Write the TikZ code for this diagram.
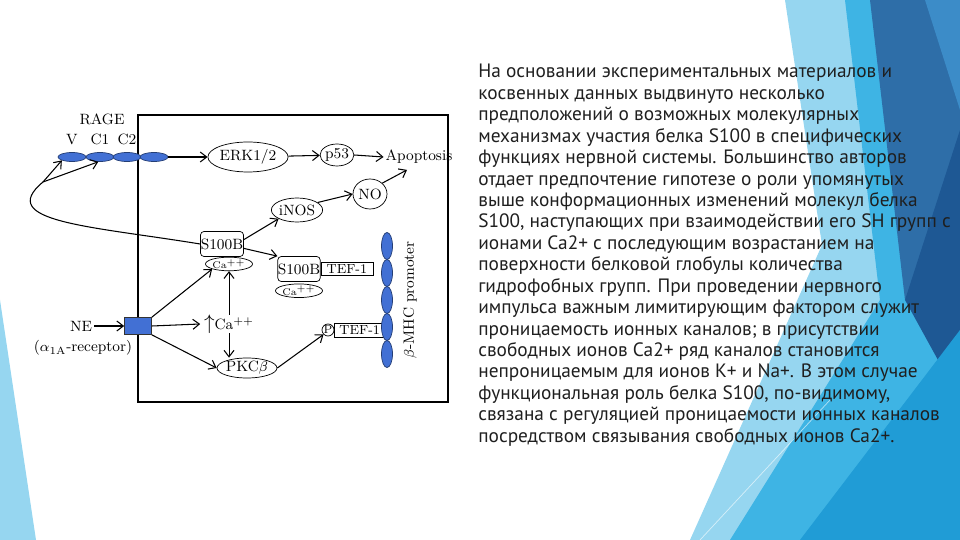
\documentclass[tikz,border=0pt]{standalone}
\usepackage{fontspec}
\usepackage{amsmath}
\newfontfamily\ptsans{PT Sans}
\usetikzlibrary{
    shapes.geometric,
    arrows.meta,
    positioning,
    calc
}
\definecolor{domblue}{RGB}{66, 112, 212}
\definecolor{slidelight}{RGB}{150, 214, 240}
\definecolor{slidecyan}{RGB}{62, 180, 228}
\definecolor{slidesteel}{RGB}{46, 110, 168}
\definecolor{slidemid}{RGB}{60, 140, 200}
\definecolor{slidenavy}{RGB}{30, 88, 148}
\definecolor{slidedeep}{RGB}{32, 156, 214}

\begin{document}
\begin{tikzpicture}[
        x=0.02cm, y=-0.02cm,
        lbl/.style={font=\fontsize{8.5}{9}\selectfont, inner sep=1pt},
        oval/.style={ellipse, draw, fill=white, inner sep=0pt, font=\fontsize{8.5}{9}\selectfont},
        rbox/.style={rectangle, draw, rounded corners=2pt, fill=white, inner sep=0pt, minimum width=8.6mm, minimum height=5mm, font=\fontsize{8.5}{9}\selectfont},
        tbox/.style={rectangle, draw, fill=white, inner sep=0pt, minimum height=2.7mm, font=\fontsize{7.5}{8}\selectfont},
        caion/.style={ellipse, draw, fill=white, inner sep=0pt, minimum height=2.6mm, font=\fontsize{5.5}{6}\selectfont},
        dom/.style={ellipse, draw=domblue!55!black, fill=domblue, inner sep=0pt, minimum width=5.6mm, minimum height=1.8mm},
        prom/.style={ellipse, draw=domblue!55!black, fill=domblue, inner sep=0pt, minimum width=2.2mm, minimum height=5.4mm},
        arrow/.style={-{Straight Barb[length=1.3mm, width=2mm]}, semithick}
    ]
        \useasboundingbox (0,0) rectangle (960,540);

        % Slide background
        \fill[slidelight] (0,300) -- (36,540) -- (0,540) -- cycle;
        \fill[slidelight] (785,0) -- (960,0) -- (960,540) -- (690,540) -- (822,245) -- cycle;
        \fill[slidecyan] (845,0) -- (960,0) -- (960,540) -- (730,540) -- (880,300) -- cycle;
        \fill[slidesteel] (870,0) -- (960,0) -- (960,230) -- (905,300) -- cycle;
        \fill[slidemid] (925,0) -- (960,0) -- (960,110) -- cycle;
        \fill[slidenavy] (905,300) -- (960,130) -- (960,400) -- cycle;
        \fill[slidedeep] (960,330) -- (960,540) -- (800,540) -- cycle;
        \draw[white, opacity=0.6] (700,540) -- (830,400);

        % Frame
        \draw[semithick] (138,115) rectangle (448,402);

        % RAGE
        \node[lbl] (rage) at (102,119) {RAGE};
        \node[dom] (v) at (72,157) {};
        \node[dom] (c1) at (100,157) {};
        \node[dom] (c2) at (127,157) {};
        \node[dom] (c3) at (154,157) {};
        \node[lbl, above=3pt of v] (vlbl) {V};
        \node[lbl, above=3pt of c1] (c1lbl) {C1};
        \node[lbl, above=3pt of c2] (c2lbl) {C2};

        % Top row
        \node[oval, minimum width=11.2mm, minimum height=6mm] (erk) at (248,157) {ERK1/2};
        \node[oval, minimum width=6mm, minimum height=4.4mm] (p53) at (337,155) {p53};
        \node[lbl] (apop) at (419,157) {Apoptosis};
        \node[oval, minimum width=6.8mm, minimum height=6mm] (no) at (370,194) {NO};
        \node[oval, minimum width=10mm, minimum height=4.8mm] (inos) at (297,210) {iNOS};

        % S100B
        \node[rbox] (s1) at (222,244) {S100B};
        \node[caion, minimum width=6mm, below=0pt of s1, xshift=4pt] (ca1) {Ca$^{++}$};
        \node[rbox, minimum width=8.4mm] (s2) at (299,269) {S100B};
        \node[tbox, minimum width=10.4mm, right=0pt of s2] (tef1) {TEF-1};
        \node[caion, minimum width=4mm, below=1pt of s2] (ca2) {Ca$^{++}$};

        % NE receptor
        \node[rectangle, draw=black!80, fill=domblue, minimum width=5.4mm, minimum height=3.4mm, inner sep=0pt] (ne) at (138,326) {};
        \node[lbl] (nelbl) at (81,326) {NE};
        \node[lbl] (rec) at (83,348) {($\alpha_{1\mathrm{A}}$-receptor)};

        % PKC
        \node[oval, minimum width=12mm, minimum height=4mm] (pkc) at (247,368) {PKC$\beta$};
        \node[circle, draw, fill=white, inner sep=0pt, minimum size=2.4mm, font=\fontsize{6.5}{7}\selectfont] (pp) at (328,330) {P};
        \node[tbox, minimum width=10mm, minimum height=2.8mm, right=0pt of pp] (tef2) {TEF-1};

        % beta-MHC promoter
        \node[prom] (m1) at (387,246) {};
        \node[prom] (m2) at (387,273) {};
        \node[prom] (m3) at (387,300) {};
        \node[prom] (m4) at (387,327) {};
        \node[prom] (m5) at (387,354) {};
        \node[lbl, rotate=90] (promlbl) at (410,300) {$\beta$-MHC promoter};

        % Arrows
        \draw[arrow] (c3.east) -- (erk.west);
        \draw[arrow] (erk) -- (p53);
        \draw[arrow] (p53.east) -- (apop.west);
        \draw[arrow] (no.north east) -- ($(apop.south)+(-12,4)$);
        \draw[arrow] (inos.20) -- (no.west);
        \draw[arrow] ([yshift=2.5pt]s1.east) -- (inos.south west);
        \draw[arrow] ([yshift=-2.5pt]s1.east) -- (s2.north west);
        \coordinate (split) at (43,182);
        \draw[semithick] (s1.west) .. controls (90,226) and (-5,222) .. (split);
        \draw[arrow] (split) -- (v.south west);
        \draw[arrow] (split) -- (c1.250);
        \draw[arrow] (nelbl.east) -- (ne.west);
        \draw[arrow] (ne.north east) -- (ca1.south west);
        \draw[arrow] (ne.south east) -- (pkc.west);
        \draw[{Straight Barb[length=1.3mm, width=2mm]}-{Straight Barb[length=1.3mm, width=2mm]}, semithick] (ca1.south) -- (ca1.south |- pkc.north);
        \node[lbl, fill=white, inner sep=0pt] (casig) at (229,324) {{\fontsize{12}{12}\selectfont$\uparrow$}Ca$^{++}$};
        \draw[arrow] (ne.east) -- ([xshift=-2pt]casig.west);
        \draw[arrow] (pkc.east) -- (pp.south west);

        % Text
        \node[anchor=north west, align=left, inner sep=0pt, text=black!88,
              font=\ptsans\fontsize{11}{12.2}\selectfont] (txt) at (478,64) {%
            На основании экспериментальных материалов и\\
            косвенных данных выдвинуто несколько\\
            предположений о возможных молекулярных\\
            механизмах участия белка S100 в специфических\\
            функциях нервной системы. Большинство авторов\\
            отдает предпочтение гипотезе о роли упомянутых\\
            выше конформационных изменений молекул белка\\
            S100, наступающих при взаимодействии его SH групп с\\
            ионами Ca2+ с последующим возрастанием на\\
            поверхности белковой глобулы количества\\
            гидрофобных групп. При проведении нервного\\
            импульса важным лимитирующим фактором служит\\
            проницаемость ионных каналов; в присутствии\\
            свободных ионов Ca2+ ряд каналов становится\\
            непроницаемым для ионов К+ и Na+. В этом случае\\
            функциональная роль белка S100, по-видимому,\\
            связана с регуляцией проницаемости ионных каналов\\
            посредством связывания свободных ионов Ca2+.};
    \end{tikzpicture}
\end{document}
